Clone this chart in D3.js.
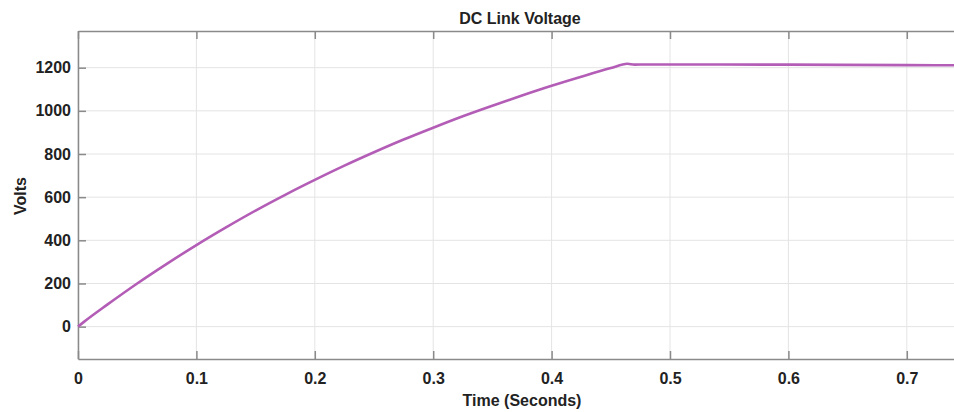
<!DOCTYPE html>
<html>
<head>
<meta charset="utf-8">
<script src="https://cdn.jsdelivr.net/npm/d3@7"></script>
<style>
  body { margin: 0; background: #fff; }
  svg { display: block; overflow: hidden; }
  text { font-family: "Liberation Sans", Arial, sans-serif; font-weight: bold; fill: #222; }
</style>
</head>
<body>
<div id="chart"></div>
<script>
// time (s) and DC link voltage (V)
const times = [0, 0.005, 0.025, 0.05, 0.075, 0.1, 0.125, 0.15, 0.175, 0.2, 0.225, 0.25,
  0.275, 0.3, 0.325, 0.35, 0.375, 0.4, 0.425, 0.45, 0.464, 0.47, 0.48, 0.5, 0.6, 0.7, 0.75];
const volts = [0, 22, 103, 200, 291, 378, 460, 538, 611, 680, 746, 808,
  867, 922, 975, 1024, 1071, 1116, 1158, 1198, 1218, 1214, 1215, 1215, 1214, 1212, 1211];
const xTicks = [0, 0.1, 0.2, 0.3, 0.4, 0.5, 0.6, 0.7];
const yTicks = [0, 200, 400, 600, 800, 1000, 1200];

const W = 954, H = 412;
const margin = { top: 31, right: -12, bottom: 53, left: 78 };

const svg = d3.select("#chart").append("svg")
  .attr("width", W)
  .attr("height", H);

const x = d3.scaleLinear().domain([0, 0.75]).range([margin.left, W - margin.right]);
const y = d3.scaleLinear().domain([-150, 1370]).range([H - margin.bottom, margin.top]);

// grid
svg.append("g")
  .selectAll("line")
  .data(xTicks)
  .join("line")
  .attr("x1", d => x(d)).attr("x2", d => x(d))
  .attr("y1", margin.top).attr("y2", H - margin.bottom)
  .attr("stroke", "#e4e4e4").attr("stroke-width", 1);

svg.append("g")
  .selectAll("line")
  .data(yTicks)
  .join("line")
  .attr("x1", margin.left).attr("x2", W - margin.right)
  .attr("y1", d => y(d)).attr("y2", d => y(d))
  .attr("stroke", "#e4e4e4").attr("stroke-width", 1);

// axes, matlab style: ticks point inward
const axisColor = "#8a8a8a";
const styleAxis = g => {
  g.select(".domain").attr("stroke", axisColor).attr("stroke-width", 1.5);
  g.selectAll(".tick line").attr("stroke", axisColor).attr("stroke-width", 1.5);
  g.selectAll(".tick text").style("font-size", "16px").attr("fill", "#222");
};

svg.append("g")
  .attr("transform", `translate(0, ${H - margin.bottom})`)
  .call(d3.axisBottom(x).tickValues(xTicks).tickFormat(d3.format("")).tickSizeInner(-8).tickSizeOuter(0).tickPadding(14))
  .call(styleAxis);

svg.append("g")
  .attr("transform", `translate(0, ${margin.top})`)
  .call(d3.axisTop(x).tickValues(xTicks).tickFormat("").tickSizeInner(-8).tickSizeOuter(0))
  .call(styleAxis);

svg.append("g")
  .attr("transform", `translate(${margin.left}, 0)`)
  .call(d3.axisLeft(y).tickValues(yTicks).tickFormat(d3.format("")).tickSizeInner(-8).tickSizeOuter(0).tickPadding(7))
  .call(styleAxis);

// the curve
const data = times.map((t, i) => ({ t: t, v: volts[i] }));
svg.append("path")
  .datum(data)
  .attr("fill", "none")
  .attr("stroke", "#b35db6")
  .attr("stroke-width", 2.6)
  .attr("stroke-linejoin", "round")
  .attr("d", d3.line().x(d => x(d.t)).y(d => y(d.v)).curve(d3.curveMonotoneX));

// title and labels
svg.append("text")
  .attr("x", 520).attr("y", 24)
  .attr("text-anchor", "middle")
  .style("font-size", "16px")
  .text("DC Link Voltage");

svg.append("text")
  .attr("x", 522).attr("y", 406)
  .attr("text-anchor", "middle")
  .style("font-size", "16px")
  .text("Time (Seconds)");

svg.append("text")
  .attr("transform", "translate(26, 196) rotate(-90)")
  .attr("text-anchor", "middle")
  .style("font-size", "16px")
  .text("Volts");
</script>
</body>
</html>
